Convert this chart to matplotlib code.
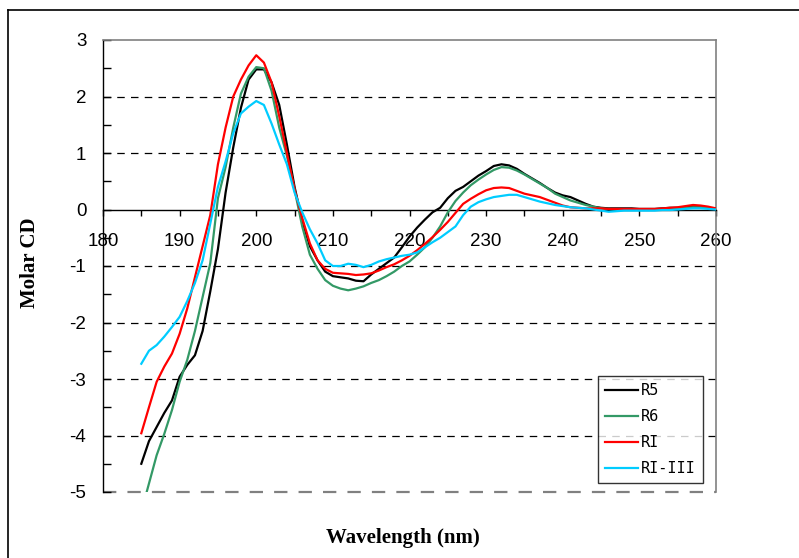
import matplotlib
matplotlib.use("Agg")
import matplotlib.pyplot as plt
from matplotlib.lines import Line2D
from matplotlib.ticker import MultipleLocator

plt.rcParams["axes.unicode_minus"] = False

wavelength = list(range(185, 261))

r5 = [-4.50, -4.10, -3.85, -3.60, -3.38, -2.96, -2.75, -2.58, -2.15, -1.45,
      -0.70, 0.30, 1.10, 1.80, 2.30, 2.48, 2.48, 2.25, 1.85, 1.15,
      0.40, -0.20, -0.65, -0.90, -1.10, -1.18, -1.20, -1.22, -1.26, -1.27,
      -1.15, -1.05, -0.95, -0.85, -0.67, -0.48, -0.32, -0.18, -0.05, 0.03,
      0.20, 0.33, 0.40, 0.50, 0.60, 0.68, 0.77, 0.80, 0.78, 0.72,
      0.63, 0.55, 0.47, 0.38, 0.30, 0.25, 0.22, 0.16, 0.10, 0.05,
      0.03, 0.02, 0.02, 0.02, 0.02, 0.01, 0.01, 0.01, 0.02, 0.03,
      0.03, 0.04, 0.05, 0.04, 0.03, 0.01]

r6 = [-5.35, -4.85, -4.35, -3.97, -3.55, -3.05, -2.66, -2.15, -1.55, -0.95,
      0.20, 0.75, 1.45, 2.05, 2.35, 2.52, 2.50, 2.10, 1.45, 0.95,
      0.35, -0.30, -0.80, -1.05, -1.25, -1.35, -1.40, -1.43, -1.40, -1.36,
      -1.30, -1.25, -1.18, -1.10, -1.00, -0.92, -0.80, -0.67, -0.50, -0.30,
      -0.05, 0.15, 0.30, 0.43, 0.53, 0.62, 0.70, 0.75, 0.74, 0.69,
      0.62, 0.54, 0.46, 0.38, 0.28, 0.22, 0.16, 0.12, 0.08, 0.05,
      0.02, 0.01, 0.00, 0.00, 0.00, 0.00, 0.00, 0.00, 0.01, 0.01,
      0.02, 0.03, 0.04, 0.04, 0.03, 0.01]

ri = [-3.96, -3.50, -3.05, -2.78, -2.55, -2.20, -1.75, -1.20, -0.65, -0.10,
      0.80, 1.45, 2.00, 2.30, 2.55, 2.73, 2.60, 2.25, 1.65, 1.00,
      0.35, -0.15, -0.60, -0.90, -1.05, -1.12, -1.13, -1.14, -1.16, -1.15,
      -1.13, -1.08, -1.02, -0.97, -0.90, -0.82, -0.72, -0.61, -0.49, -0.36,
      -0.22, -0.06, 0.10, 0.19, 0.27, 0.34, 0.38, 0.39, 0.38, 0.33,
      0.28, 0.25, 0.22, 0.17, 0.12, 0.07, 0.04, 0.03, 0.02, 0.02,
      0.02, 0.01, 0.01, 0.01, 0.01, 0.01, 0.01, 0.01, 0.02, 0.03,
      0.04, 0.06, 0.08, 0.07, 0.05, 0.02]

ri_iii = [-2.73, -2.50, -2.40, -2.25, -2.08, -1.90, -1.62, -1.30, -0.90, -0.25,
          0.40, 0.85, 1.35, 1.70, 1.82, 1.92, 1.85, 1.52, 1.15, 0.80,
          0.30, -0.05, -0.35, -0.60, -0.90, -1.00, -1.00, -0.96, -0.98, -1.02,
          -0.98, -0.92, -0.88, -0.85, -0.82, -0.80, -0.76, -0.67, -0.58, -0.50,
          -0.40, -0.30, -0.10, 0.05, 0.13, 0.18, 0.22, 0.24, 0.26, 0.26,
          0.22, 0.18, 0.14, 0.11, 0.08, 0.06, 0.04, 0.03, 0.02, 0.00,
          -0.02, -0.04, -0.03, -0.02, -0.02, -0.02, -0.02, -0.02, -0.01, -0.01,
          0.00, 0.01, 0.02, 0.02, 0.01, 0.00]

series_names = ["R5", "R6", "RI", "RI-III"]
series_values = [r5, r6, ri, ri_iii]
series_colors = ["#000000", "#339966", "#FF0000", "#00CCFF"]

W, H = 799, 558
fig = plt.figure(figsize=(W / 100, H / 100), dpi=100)
L, R, T, B = 103, 716, 40, 492
ax = fig.add_axes([L / W, 1 - B / H, (R - L) / W, (B - T) / H])

for name, vals, col in zip(series_names, series_values, series_colors):
    ax.plot(wavelength, vals, color=col, lw=1.6, label=name, zorder=3)

ax.set_xlim(180, 260)
ax.set_ylim(-5, 3)

# gridlines
for yv in [-4, -3, -2, -1, 1, 2]:
    ax.axhline(yv, color="black", lw=0.9, ls=(0, (6, 5)), zorder=1)
ax.axhline(-5, color="#808080", lw=1.6, ls=(0, (6, 5)), zorder=1, clip_on=False)

ax.spines["bottom"].set_position(("data", 0))
ax.spines["bottom"].set_color("black")
ax.spines["bottom"].set_linewidth(1.0)
ax.spines["left"].set_color("black")
ax.spines["left"].set_linewidth(1.0)
ax.spines["top"].set_color("#808080")
ax.spines["right"].set_color("#808080")
ax.spines["top"].set_linewidth(1.2)
ax.spines["right"].set_linewidth(1.2)

ax.xaxis.set_major_locator(MultipleLocator(10))
ax.xaxis.set_minor_locator(MultipleLocator(5))
ax.yaxis.set_major_locator(MultipleLocator(1))
ax.yaxis.set_minor_locator(MultipleLocator(0.5))

ax.tick_params(axis="x", which="both", direction="out", length=4, width=1, pad=13)
ax.tick_params(axis="y", which="both", direction="in", length=6, width=1, pad=12)

for lab in ax.get_xticklabels() + ax.get_yticklabels():
    lab.set_fontfamily("Liberation Sans")
    lab.set_fontsize(13.5)

ax.set_xlabel("Wavelength (nm)", fontfamily="Liberation Serif", fontweight="bold", fontsize=15)
ax.set_ylabel("Molar CD", fontfamily="Liberation Serif", fontweight="bold", fontsize=15)
ax.xaxis.set_label_coords((403 - L) / (R - L), (B - 528) / (B - T))
ax.yaxis.set_label_coords((40 - L) / (R - L), (B - 263) / (B - T))

leg = ax.legend(loc="lower right", bbox_to_anchor=((703 - L) / (R - L), (B - 483) / (B - T)),
                borderaxespad=0, frameon=True, fancybox=False, handlelength=2.2,
                handletextpad=0.2, labelspacing=0.72, borderpad=0.45,
                prop={"family": "DejaVu Sans Mono", "size": 11})
leg.get_frame().set_edgecolor("black")
leg.get_frame().set_linewidth(1.0)
leg.set_zorder(5)

# outer chart border
fig.add_artist(Line2D([8 / W, 1.0], [1 - 10 / H, 1 - 10 / H], color="black", lw=1.2))
fig.add_artist(Line2D([8 / W, 8 / W], [0.0, 1 - 10 / H], color="black", lw=1.2))

fig.savefig("out.png", dpi=100)
